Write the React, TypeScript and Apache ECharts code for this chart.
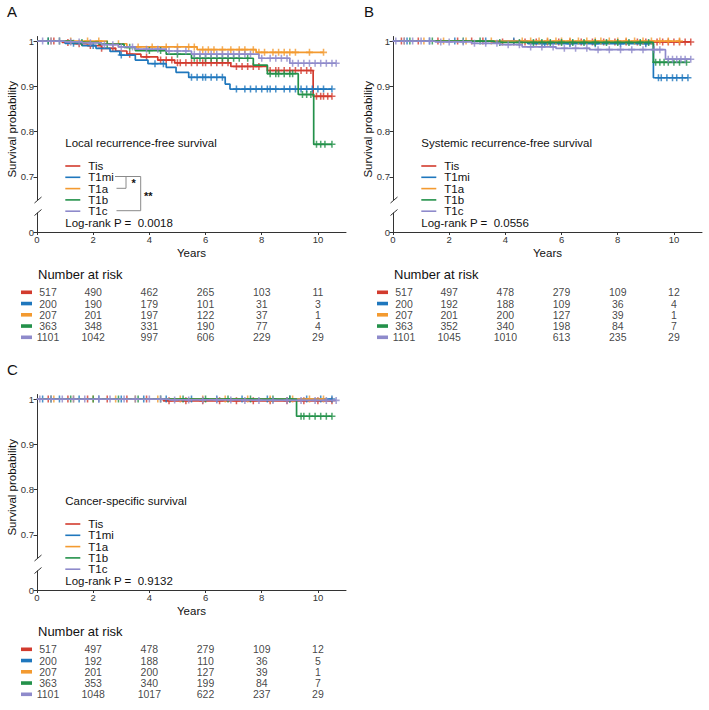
import React, { useEffect, useRef } from 'react';
import * as echarts from 'echarts';

const GROUPS = ['Tis', 'T1mi', 'T1a', 'T1b', 'T1c'];
const COLORS = ['#D23B2E', '#1F77BD', '#F39A30', '#23914A', '#8E8ACB'];

const PANEL_LETTERS = ['A', 'B', 'C'];
const PANEL_TITLES = ['Local recurrence-free survival', 'Systemic recurrence-free survival', 'Cancer-specific survival'];
const LOGRANK_P = ['0.0018', '0.0556', '0.9132'];

const YEAR_TICKS = [0, 2, 4, 6, 8, 10];
const SURV_TICKS = [0.7, 0.8, 0.9, 1];
const LOW_TICKS = [0];
const RISK_TIMES = [0, 2, 4, 6, 8, 10];

// Kaplan-Meier steps [years, survival]; last point = end of follow-up
const A_TIS = [[0, 1], [0.9, 0.997], [1.3, 0.994], [1.8, 0.99], [2.3, 0.984], [2.8, 0.978], [3.2, 0.971], [3.7, 0.965], [4.3, 0.958], [4.9, 0.952], [6.9, 0.944], [8.2, 0.935], [9.83, 0.878], [10.5, 0.878]];
const A_T1MI = [[0, 1], [1.0, 0.995], [1.6, 0.99], [2.1, 0.984], [2.6, 0.977], [2.95, 0.969], [3.5, 0.958], [3.95, 0.95], [4.6, 0.942], [4.95, 0.931], [5.4, 0.92], [6.7, 0.905], [6.87, 0.894], [10.5, 0.894]];
const A_T1A = [[0, 1], [2.5, 0.994], [3.2, 0.987], [5.7, 0.981], [7.8, 0.975], [10.2, 0.975]];
const A_T1B = [[0, 1], [1.3, 0.997], [2.2, 0.993], [3.1, 0.986], [3.5, 0.979], [4.6, 0.971], [5.5, 0.962], [7.7, 0.947], [8.2, 0.928], [9.3, 0.882], [9.85, 0.772], [10.5, 0.772]];
const A_T1C = [[0, 1], [1.0, 0.998], [1.6, 0.996], [2.3, 0.992], [2.9, 0.987], [3.5, 0.982], [4.6, 0.978], [5.5, 0.971], [7.9, 0.962], [9.0, 0.951], [10.65, 0.951]];

const B_TIS = [[0, 1], [3.5, 0.998], [10.6, 0.998]];
const B_T1MI = [[0, 1], [4.8, 0.994], [9.27, 0.919], [10.5, 0.919]];
const B_T1A = [[0, 1], [10.2, 1]];
const B_T1B = [[0, 1], [3.6, 0.997], [9.27, 0.953], [10.45, 0.953]];
const B_T1C = [[0, 1], [1.5, 0.998], [2.8, 0.995], [3.8, 0.992], [4.6, 0.987], [5.8, 0.984], [7.0, 0.981], [9.7, 0.96], [10.6, 0.96]];

const C_TIS = [[0, 1], [4.5, 0.996], [10.5, 0.996]];
const C_T1MI = [[0, 1], [10.5, 1]];
const C_T1A = [[0, 1], [10.2, 1]];
const C_T1B = [[0, 1], [9.24, 0.962], [10.5, 0.962]];
const C_T1C = [[0, 1], [4.7, 0.998], [7.0, 0.997], [10.65, 0.997]];

// censoring times (years)
const A_TIS_CENS = [0.6, 1.1, 1.5, 1.9, 2.3, 2.7, 3.3, 3.9, 4.4, 4.6, 4.8, 5.0, 5.1, 5.3, 5.5, 5.7, 5.9, 6.0, 6.2, 6.4, 6.6, 6.8, 7.1, 7.3, 7.5, 7.7, 7.9, 8.3, 8.5, 8.6, 8.8, 9.0, 9.2, 9.4, 9.6, 9.75, 9.95, 10.1, 10.2, 10.35, 10.5];
const A_T1MI_CENS = [0.4, 1.3, 2.0, 3.0, 4.2, 4.5, 5.5, 5.7, 5.9, 6.0, 6.2, 6.4, 6.6, 7.1, 7.4, 7.6, 7.8, 8.0, 8.2, 8.3, 8.5, 8.8, 9.0, 9.2, 9.4, 9.6, 9.8, 10.0, 10.2, 10.5];
const A_T1A_CENS = [0.5, 1.2, 1.8, 2.2, 2.9, 3.6, 4.1, 4.6, 5.0, 5.4, 5.6, 5.9, 6.1, 6.3, 6.6, 6.9, 7.2, 7.4, 7.7, 7.9, 8.1, 8.4, 8.6, 8.8, 9.0, 9.2, 9.7, 10.2];
const A_T1B_CENS = [0.4, 0.8, 1.6, 2.5, 3.3, 4.0, 4.4, 5.0, 5.6, 5.8, 6.0, 6.2, 6.4, 6.6, 6.8, 7.0, 7.2, 7.5, 8.3, 8.5, 8.6, 8.8, 9.0, 9.1, 9.45, 9.6, 9.75, 9.95, 10.1, 10.25, 10.5];
const A_T1C_CENS = [0.2, 0.5, 0.8, 1.2, 1.5, 1.9, 2.4, 2.7, 3.0, 3.4, 3.9, 4.3, 4.7, 5.0, 5.3, 5.6, 5.8, 6.0, 6.2, 6.4, 6.6, 6.8, 7.0, 7.2, 7.4, 7.6, 8.0, 8.3, 8.5, 8.7, 8.9, 9.1, 9.3, 9.5, 9.7, 9.9, 10.1, 10.3, 10.5, 10.65];

const B_TIS_CENS = [0.3, 0.9, 1.6, 2.3, 2.8, 3.2, 3.9, 4.3, 4.7, 5.1, 5.5, 5.9, 6.3, 6.7, 7.1, 7.5, 7.9, 8.3, 8.7, 9.0, 9.4, 9.6, 9.8, 10.0, 10.2, 10.4, 10.6];
const B_T1MI_CENS = [0.5, 1.3, 2.2, 3.3, 4.3, 5.4, 6.3, 7.2, 8.1, 9.0, 9.45, 9.55, 9.75, 9.95, 10.1, 10.3, 10.5];
const B_T1A_CENS = [0.4, 1.1, 1.8, 2.6, 3.5, 4.6, 4.9, 5.2, 5.5, 5.8, 6.0, 6.3, 6.6, 6.9, 7.2, 7.4, 7.7, 8.0, 8.3, 8.6, 8.9, 9.2, 9.5, 9.8, 10.2];
const B_T1B_CENS = [0.6, 1.4, 2.5, 3.1, 3.8, 4.5, 5.0, 5.3, 5.6, 6.0, 6.4, 6.8, 7.2, 7.6, 8.0, 8.4, 8.8, 9.1, 9.35, 9.5, 9.65, 9.8, 10.0, 10.2, 10.45];
const B_T1C_CENS = [0.1, 0.4, 0.7, 1.0, 1.3, 1.7, 2.0, 2.5, 2.9, 3.3, 3.7, 4.1, 4.5, 4.9, 5.3, 5.7, 6.1, 6.5, 6.9, 7.3, 7.7, 8.1, 8.5, 8.9, 9.3, 9.5, 9.8, 9.95, 10.1, 10.25, 10.4, 10.6];

const C_TIS_CENS = [0.4, 1.1, 1.8, 2.5, 3.2, 3.9, 4.7, 5.3, 5.9, 6.5, 7.1, 7.7, 8.3, 8.9, 9.5, 10.0, 10.5];
const C_T1MI_CENS = [0.2, 0.8, 1.5, 2.2, 3.0, 3.8, 4.6, 5.5, 6.4, 7.3, 8.2, 9.0, 9.6, 10.1, 10.5];
const C_T1A_CENS = [0.6, 1.3, 2.0, 2.8, 3.5, 4.3, 5.1, 5.9, 6.7, 7.5, 8.3, 9.1, 9.7, 10.2];
const C_T1B_CENS = [0.5, 1.2, 2.0, 2.9, 3.6, 4.4, 5.2, 6.0, 6.8, 7.6, 8.4, 9.0, 9.4, 9.5, 9.7, 9.9, 10.1, 10.3, 10.5];
const C_T1C_CENS = [0.1, 0.5, 0.9, 1.3, 1.7, 2.2, 2.6, 3.1, 3.5, 4.0, 4.4, 4.9, 5.4, 5.9, 6.4, 6.9, 7.4, 7.9, 8.4, 8.9, 9.4, 9.9, 10.3, 10.65];

// Number at risk
const RISK_A = [[517, 490, 462, 265, 103, 11], [200, 190, 179, 101, 31, 3], [207, 201, 197, 122, 37, 1], [363, 348, 331, 190, 77, 4], [1101, 1042, 997, 606, 229, 29]];
const RISK_B = [[517, 497, 478, 279, 109, 12], [200, 192, 188, 109, 36, 4], [207, 201, 200, 127, 39, 1], [363, 352, 340, 198, 84, 7], [1101, 1045, 1010, 613, 235, 29]];
const RISK_C = [[517, 497, 478, 279, 109, 12], [200, 192, 188, 110, 36, 5], [207, 201, 200, 127, 39, 1], [363, 353, 340, 199, 84, 7], [1101, 1048, 1017, 622, 237, 29]];

const STEPS = [[A_TIS, A_T1MI, A_T1A, A_T1B, A_T1C], [B_TIS, B_T1MI, B_T1A, B_T1B, B_T1C], [C_TIS, C_T1MI, C_T1A, C_T1B, C_T1C]];
const CENS = [[A_TIS_CENS, A_T1MI_CENS, A_T1A_CENS, A_T1B_CENS, A_T1C_CENS], [B_TIS_CENS, B_T1MI_CENS, B_T1A_CENS, B_T1B_CENS, B_T1C_CENS], [C_TIS_CENS, C_T1MI_CENS, C_T1A_CENS, C_T1B_CENS, C_T1C_CENS]];
const RISK = [RISK_A, RISK_B, RISK_C];

const FONT = '"Liberation Sans", Arial, Helvetica, sans-serif';
const PLUS = 'path://M0,3.9H10V6.1H0Z M3.9,0H6.1V10H3.9Z';
const AXIS_COLOR = '#333';

function survAt(steps: number[][], t: number) {
  let s = steps[0][1];
  for (const [tt, v] of steps) if (tt <= t) s = v;
  return s;
}

function buildOption() {
  const PX = [37, 393, 37];
  const DY = [0, 0, 358];
  const W = 309;
  const grid: any[] = [];
  const xAxis: any[] = [];
  const yAxis: any[] = [];
  const series: any[] = [];
  const graphic: any[] = [];

  const text = (x: number, y: number, t: string, size: number, extra: any = {}) => ({
    type: 'text', x, y, silent: true,
    style: { text: t, fontSize: size, fontFamily: FONT, fill: extra.fill || '#111', textAlign: extra.align || 'left', textVerticalAlign: 'middle', fontWeight: extra.weight || 'normal' },
    rotation: extra.rotation || 0,
  });
  const line = (x1: number, y1: number, x2: number, y2: number, color: string, w: number) => ({
    type: 'line', silent: true, shape: { x1, y1, x2, y2 }, style: { stroke: color, lineWidth: w },
  });

  for (let p = 0; p < 3; p++) {
    const L = PX[p];
    const dy = DY[p];
    const dyr = p === 2 ? 357 : 0;
    grid.push({ left: L, top: 36.5 + dy, width: W, height: 163.1 });
    grid.push({ left: L, top: 213 + dy, width: W, height: 19 });
    grid.push({ left: L, top: 286.7 + dyr, width: W, height: 56.3 });
    const gi = p * 3;

    xAxis.push({ gridIndex: gi, type: 'value', min: 0, max: 11, show: false });
    xAxis.push({
      gridIndex: gi + 1, type: 'value', min: 0, max: 11,
      axisLine: { show: true, lineStyle: { color: AXIS_COLOR, width: 1 } },
      axisTick: { show: true, customValues: YEAR_TICKS, length: 3, lineStyle: { color: AXIS_COLOR } },
      axisLabel: { customValues: YEAR_TICKS, fontSize: 9.5, color: '#333', margin: 2, fontFamily: FONT },
      splitLine: { show: false },
      name: 'Years', nameLocation: 'middle', nameGap: 14.5,
      nameTextStyle: { fontSize: 11.5, color: '#111', fontFamily: FONT },
    });
    xAxis.push({ gridIndex: gi + 2, type: 'value', min: 0, max: 11, show: false });

    yAxis.push({
      gridIndex: gi, type: 'value', min: 0.65, max: 1.01,
      axisLine: { show: true, lineStyle: { color: AXIS_COLOR, width: 1 } },
      axisTick: { show: true, customValues: SURV_TICKS, length: 3.5, lineStyle: { color: AXIS_COLOR } },
      axisLabel: { customValues: SURV_TICKS, fontSize: 9.5, color: '#333', margin: 3, fontFamily: FONT, formatter: (v: number) => String(v) },
      splitLine: { show: false },
    });
    yAxis.push({
      gridIndex: gi + 1, type: 'value', min: 0, max: 1,
      axisLine: { show: true, lineStyle: { color: AXIS_COLOR, width: 1 } },
      axisTick: { show: true, customValues: LOW_TICKS, length: 3.5, lineStyle: { color: AXIS_COLOR } },
      axisLabel: { customValues: LOW_TICKS, fontSize: 9.5, color: '#333', margin: 3, fontFamily: FONT },
      splitLine: { show: false },
    });
    yAxis.push({ gridIndex: gi + 2, type: 'category', data: GROUPS, inverse: true, show: false });

    for (let g = 0; g < 5; g++) {
      const steps = STEPS[p][g];
      series.push({
        name: GROUPS[g], type: 'line', xAxisIndex: gi, yAxisIndex: gi,
        data: steps, step: 'end', showSymbol: false, symbol: 'none', silent: true,
        lineStyle: { color: COLORS[g], width: 1.7 }, itemStyle: { color: COLORS[g] }, z: 2 + g,
      });
      series.push({
        name: GROUPS[g], type: 'scatter', xAxisIndex: gi, yAxisIndex: gi,
        data: CENS[p][g].map((t) => [t, survAt(steps, t)]),
        symbol: PLUS, symbolSize: 7, silent: true,
        itemStyle: { color: COLORS[g] }, z: 2 + g,
      });
      series.push({
        name: GROUPS[g] + ' at risk', type: 'scatter', xAxisIndex: gi + 2, yAxisIndex: gi + 2,
        data: RISK_TIMES.map((t, i) => ({ value: [t, g, RISK[p][g][i]], label: i === 0 ? { offset: [11, 0] } : undefined })),
        symbolSize: 1, silent: true, itemStyle: { color: 'rgba(0,0,0,0)' },
        label: { show: true, position: 'inside', formatter: (d: any) => String(d.value[2]), fontSize: 10.5, color: '#111', fontFamily: FONT },
      });
    }

    graphic.push(text(p === 1 ? 364 : 7, 11 + dy, PANEL_LETTERS[p], 15, { fill: '#111' }));
    graphic.push(text(L - 25.3, 129.3 + dy, 'Survival probability', 11.5, { align: 'center', rotation: Math.PI / 2 }));
    graphic.push(line(L - 2.5, 203 + dy, L + 4.5, 197 + dy, AXIS_COLOR, 1));
    graphic.push(line(L - 2.5, 215.5 + dy, L + 4.5, 209.5 + dy, AXIS_COLOR, 1));
    const tx = L + 28.3;
    graphic.push(text(tx, 143.3 + dy, PANEL_TITLES[p], 11.5));
    for (let g = 0; g < 5; g++) {
      const yy = 166 + g * 11.3 + dy;
      graphic.push(line(tx, yy, tx + 15, yy, COLORS[g], 1.6));
      graphic.push(text(tx + 23, yy, GROUPS[g], 11.5));
    }
    graphic.push(text(tx, 222.7 + dy, 'Log-rank P =  ' + LOGRANK_P[p], 11.5));
    graphic.push(text(L + 1, 274 + dyr, 'Number at risk', 13));
    for (let g = 0; g < 5; g++) {
      const yy = 292.3 + g * 11.25 + dyr;
      graphic.push({ type: 'rect', silent: true, shape: { x: L - 16, y: yy - 1.8, width: 11, height: 3.6 }, style: { fill: COLORS[g] } });
    }
  }

  const BR = '#8a8a8a';
  graphic.push(line(115, 176.5, 140.7, 176.5, BR, 1));
  graphic.push(line(126, 176.5, 126, 188.3, BR, 1));
  graphic.push(line(116.5, 188.3, 126, 188.3, BR, 1));
  graphic.push(line(140.7, 176.5, 140.7, 210.7, BR, 1));
  graphic.push(line(116.5, 210.7, 140.7, 210.7, BR, 1));
  graphic.push(text(131.5, 183, '*', 11, { weight: 'bold' }));
  graphic.push(text(144, 195.5, '**', 11, { weight: 'bold' }));

  return {
    animation: false,
    backgroundColor: '#fff',
    textStyle: { fontFamily: FONT },
    grid, xAxis, yAxis, series, graphic,
  };
}

export default function App() {
  const ref = useRef<HTMLDivElement>(null);
  useEffect(() => {
    if (!ref.current) return;
    const chart = echarts.init(ref.current, undefined, { renderer: 'svg' });
    chart.setOption(buildOption() as any);
    return () => chart.dispose();
  }, []);
  return <div ref={ref} style={{ position: 'fixed', left: 0, top: 0, width: 709, height: 710, background: '#fff' }} />;
}
